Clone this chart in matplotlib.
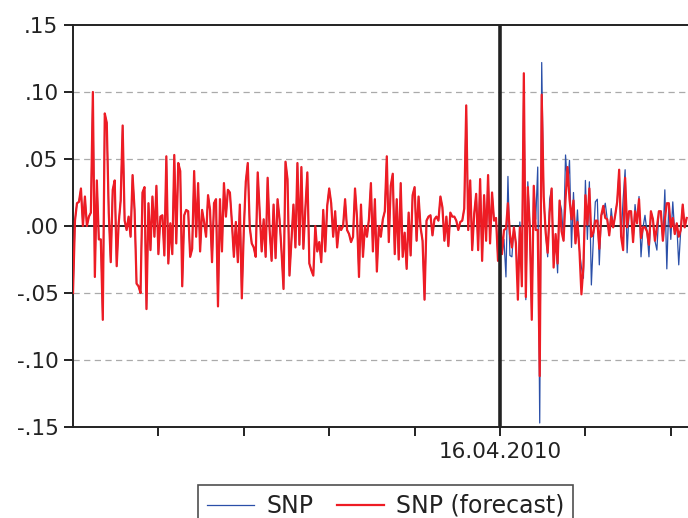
import numpy as np
import matplotlib
matplotlib.use('Agg')
from matplotlib import pyplot as plt

# SNP returns up to the forecast start (actual and forecast coincide here)
snp_hist = [
    -0.050, 0.004, 0.017, 0.018, 0.028, 0.000, 0.022, 0.000, 0.007, 0.010,
    0.100, -0.038, 0.034, -0.010, -0.010, -0.070, 0.084, 0.077, 0.010, -0.027,
    0.027, 0.034, -0.030, 0.002, 0.019, 0.075, 0.004, -0.003, 0.007, -0.008,
    0.038, 0.012, -0.043, -0.045, -0.050, 0.025, 0.029, -0.062, 0.017, -0.018,
    0.022, -0.008, 0.030, -0.021, 0.007, 0.008, -0.022, 0.052, -0.028, 0.002,
    -0.021,
    0.053, -0.013, 0.047, 0.041, -0.045, 0.008, 0.012, 0.011, -0.023, -0.017,
    0.041, -0.008, 0.032, -0.019, 0.012, 0.003, -0.008, 0.023, 0.012, -0.027,
    0.017, 0.020, -0.060, 0.020, -0.019, 0.032, 0.007, 0.027, 0.025, 0.003,
    -0.023, 0.003, -0.027, 0.016, -0.054, -0.003, 0.033, 0.047, -0.001, -0.013,
    -0.016, -0.023, 0.040, 0.010, -0.019, 0.005, -0.023, 0.036, -0.003, -0.026,
    0.016, -0.024, 0.020, 0.005, -0.019, -0.047,
    0.048, 0.035, -0.037, -0.011, 0.016, -0.016, 0.047, -0.014, 0.044, -0.017,
    0.013, 0.040, -0.028, -0.033, -0.037, 0.000, -0.019, -0.012, -0.027, 0.012,
    -0.019, 0.015, 0.028, 0.017, -0.008, 0.011, -0.016, 0.000, -0.003, 0.000,
    0.020, -0.003, -0.006, -0.012, -0.008, 0.028, 0.006, -0.038, 0.016, -0.023,
    0.000, -0.008, 0.005, 0.032, -0.019, 0.020, -0.034, 0.000, -0.008, 0.005,
    0.011, 0.052, -0.012,
    0.030, 0.039, -0.021, 0.020, -0.025, 0.032, -0.023, -0.005, -0.032, 0.010,
    -0.022, 0.023, 0.029, -0.011, 0.022, -0.001, -0.011, -0.055, 0.004, 0.007,
    0.008, -0.007, 0.005, 0.007, 0.004, 0.022, 0.014, -0.011, 0.007, -0.015,
    0.010, 0.007, 0.007, 0.004, -0.003, 0.003, 0.004, 0.013, 0.090, -0.003,
    0.034, -0.018, 0.009, 0.024, -0.018, 0.035, -0.026, 0.023,
    -0.011, 0.038, -0.013, 0.025, 0.004, 0.006, -0.026, 0.008,
]

# after 16.04.2010: actual SNP
snp_post = [
    -0.021, -0.010, -0.038, 0.037, -0.022, -0.023, 0.000, -0.013, -0.040, 0.003,
    -0.040, 0.112, -0.055, 0.033, 0.000, -0.068, 0.030, 0.005, 0.044, -0.147,
    0.122, 0.020, -0.005, -0.023, 0.020, 0.028, -0.028, -0.007, -0.035, 0.019,
    0.012, -0.011, 0.053, 0.030, 0.049, -0.016, 0.025, -0.013, 0.012, -0.018,
    -0.031,
    -0.039, 0.034, -0.010, 0.033, -0.044, -0.010, 0.018, 0.020, -0.029, 0.008,
    0.010, 0.017, 0.005, -0.007, 0.013, -0.001, 0.008, 0.018, 0.042, -0.008,
    0.020, 0.042, -0.020, 0.011, 0.011, -0.012, 0.016, 0.002, 0.022, -0.023,
    -0.001, 0.008, -0.004, -0.023, 0.011, 0.005, -0.011, -0.018, 0.011, 0.011,
    -0.011, 0.027, -0.032, 0.017, -0.010, 0.018, -0.006, 0.002, -0.029, -0.003,
    0.016, -0.001, 0.006,
]

# after 16.04.2010: forecast
fcst_post = [
    -0.021, -0.003, -0.002, 0.017, -0.006, -0.016, -0.001, -0.013, -0.055, -0.001,
    -0.045, 0.114, -0.053, 0.029, -0.001, -0.070, 0.030, -0.003, -0.003, -0.112,
    0.098, 0.022, -0.005, -0.020, 0.010, 0.028, -0.031, -0.006, -0.028, 0.019,
    -0.004, -0.011, 0.020, 0.044, 0.020, 0.005, 0.019, -0.013, 0.003, -0.018,
    -0.051,
    -0.030, 0.023, 0.001, 0.028, -0.008, -0.005, 0.004, 0.004, -0.017, 0.008,
    0.015, 0.006, 0.005, -0.007, 0.007, -0.001, 0.008, 0.018, 0.042, -0.008,
    -0.018, 0.036, -0.001, 0.011, 0.011, -0.012, 0.011, 0.002, 0.020, -0.009,
    -0.001, -0.001, -0.004, -0.014, 0.011, 0.005, -0.011, -0.001, 0.011, 0.011,
    -0.011, 0.005, 0.017, 0.017, -0.001, 0.006, -0.006, 0.002, -0.008, -0.003,
    0.016, -0.001, 0.006,
]

break_label = '16.04.2010'
ytick_vals = [-0.15, -0.10, -0.05, 0.0, 0.05, 0.10, 0.15]
ytick_labels = ['-.15', '-.10', '-.05', '.00', '.05', '.10', '.15']

snp = np.array(snp_hist + snp_post)
fcst = np.array(snp_hist + fcst_post)
t = np.arange(len(snp))
brk = len(snp_hist) - 1

fig = plt.figure(figsize=(6.88, 5.18), dpi=100)
# axes run past the right edge, like the cropped original
ax = fig.add_axes([73/688, 91/518, 627/688, 402/518])

for y in [-0.10, -0.05, 0.05, 0.10]:
    ax.axhline(y, color='#aaaaaa', lw=0.9, dashes=(5, 3.5), zorder=1)
ax.axhline(0, color='#222222', lw=1.4, zorder=2)

ax.plot(t, snp, color='#2a4fa8', lw=0.9, label='SNP', zorder=3)
ax.plot(t, fcst, color='#ee1c24', lw=1.6, label='SNP (forecast)', zorder=4)
ax.axvline(brk, color='#222222', lw=2.6, zorder=5)

# 427 px between start and break
ax.set_xlim(0, 627 / (427 / brk))
ax.set_ylim(-0.15, 0.15)

xt = np.arange(1, 8) * brk / 5
ax.set_xticks(xt)
ax.set_xticklabels(['', '', '', '', break_label, '', ''])
ax.set_yticks(ytick_vals)
ax.set_yticklabels(ytick_labels)

for s in ax.spines.values():
    s.set_linewidth(1.4)
    s.set_color('#222222')
ax.tick_params(direction='out', length=6.5, width=1.4, color='#222222',
               labelsize=15.5, labelcolor='#222222', pad=4)

leg = fig.legend(loc='upper left', bbox_to_anchor=(198/688, 1 - 485/518),
                 ncol=2, frameon=True, fancybox=False, edgecolor='#222222',
                 fontsize=17, handlelength=2.0, handletextpad=0.5,
                 columnspacing=1.0, borderpad=0.38, borderaxespad=0)
leg.get_frame().set_linewidth(1.2)
for txt in leg.get_texts():
    txt.set_color('#222222')

fig.savefig('out.png', dpi=100)
